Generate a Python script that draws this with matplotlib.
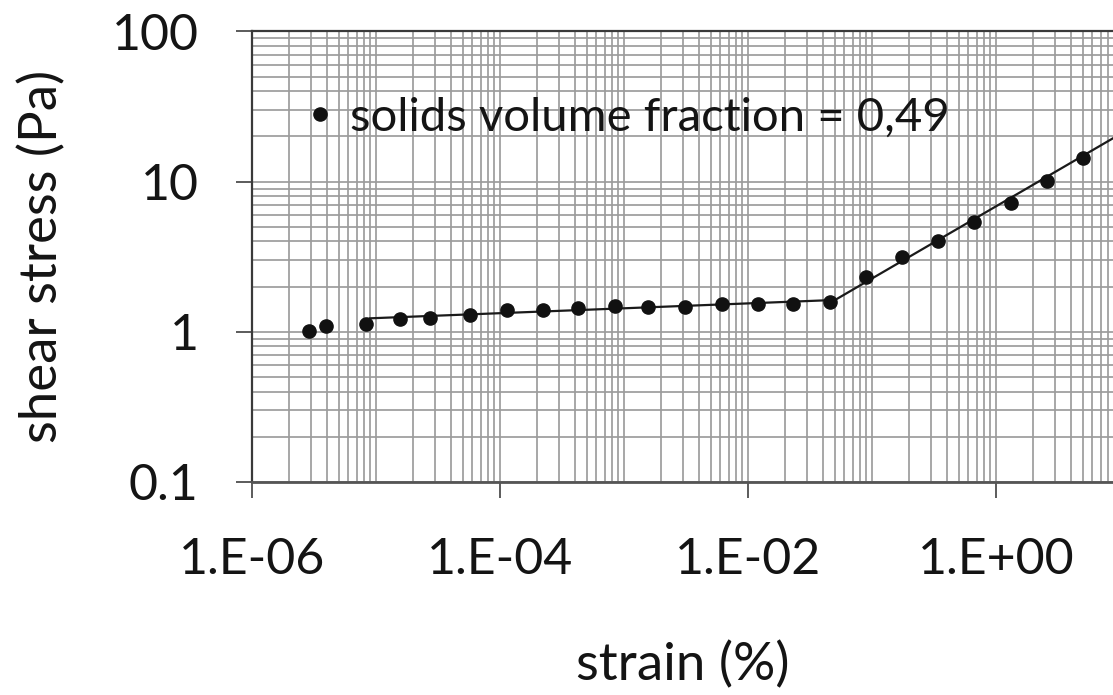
"""Shear stress vs. strain amplitude sweep on log-log axes."""

import matplotlib

matplotlib.use("Agg")
import matplotlib.pyplot as plt
from matplotlib.ticker import FixedFormatter, FixedLocator, LogLocator, NullFormatter

plt.rcParams["font.family"] = ["Lato", "DejaVu Sans"]

# measured points
strain = [
    2.90e-6, 3.95e-6, 8.3e-6, 1.56e-5, 2.72e-5, 5.73e-5, 1.13e-4, 2.24e-4,
    4.28e-4, 8.45e-4, 1.57e-3, 3.10e-3, 6.14e-3, 1.20e-2, 2.32e-2, 4.58e-2,
    8.95e-2, 0.174, 0.343, 0.668, 1.32, 2.56, 5.06,
]
stress = [
    1.02, 1.10, 1.13, 1.21, 1.24, 1.30, 1.39, 1.39,
    1.43, 1.49, 1.47, 1.47, 1.53, 1.53, 1.53, 1.59,
    2.33, 3.14, 4.05, 5.40, 7.25, 10.1, 14.4,
]

# two-segment fit (linear regime, then yielding)
fit_strain = [8.95e-6, 5.04e-2, 10.0]
fit_stress = [1.23, 1.63, 20.7]

x_ticks = [1e-6, 1e-4, 1e-2, 1e0]
x_tick_labels = ["1.E-06", "1.E-04", "1.E-02", "1.E+00"]
y_ticks = [0.1, 1, 10, 100]
y_tick_labels = ["0.1", "1", "10", "100"]

TEXT = "#141414"

fig = plt.figure(figsize=(11.13, 6.95), dpi=100)
ax = fig.add_axes([0.2264, 0.3065, 0.7736, 0.6482])

ax.set_xscale("log")
ax.set_yscale("log")
ax.set_xlim(1e-6, 8.78)
ax.set_ylim(0.1, 100)

ax.plot(fit_strain, fit_stress, color="#1a1a1a", linewidth=1.6, zorder=3)
ax.plot(strain, stress, "o", color="#111111", markersize=9.5,
        label="solids volume fraction = 0,49", zorder=4)

# ticks every two decades on x, grid on every decade + 2..9
ax.xaxis.set_major_locator(FixedLocator(x_ticks))
ax.xaxis.set_major_formatter(FixedFormatter(x_tick_labels))
ax.xaxis.set_minor_locator(LogLocator(base=10, subs=range(1, 10), numticks=60))
ax.xaxis.set_minor_formatter(NullFormatter())
ax.yaxis.set_major_locator(FixedLocator(y_ticks))
ax.yaxis.set_major_formatter(FixedFormatter(y_tick_labels))
ax.yaxis.set_minor_locator(LogLocator(base=10, subs=range(1, 10), numticks=60))
ax.yaxis.set_minor_formatter(NullFormatter())

ax.grid(which="both", color="#9c9c9c", linewidth=1.25, zorder=0)
ax.set_axisbelow(True)

ax.tick_params(which="minor", length=0)
ax.tick_params(which="major", direction="out", length=11.5, width=1.2,
               color="#404040", labelsize=36, labelcolor=TEXT)
ax.tick_params(axis="x", which="major", pad=28)
ax.tick_params(axis="y", which="major", pad=27)

for side in ("left", "bottom", "top"):
    ax.spines[side].set_color("#3a3a3a")
    ax.spines[side].set_linewidth(1.6)
ax.spines["bottom"].set_color("#555555")
ax.spines["bottom"].set_linewidth(2.0)
ax.spines["right"].set_visible(False)

ax.set_xlabel("strain (%)", fontsize=38, color=TEXT, va="center")
ax.xaxis.set_label_coords(0.5, -0.406)
ax.set_ylabel("shear stress (Pa)", fontsize=38, color=TEXT, va="center")
ax.yaxis.set_label_coords(-0.244, 0.5)

ax.legend(loc="center left", bbox_to_anchor=(0.0624, 0.808), frameon=False,
          handlelength=0.6, handletextpad=0.33, borderpad=0, borderaxespad=0,
          fontsize=34, labelcolor=TEXT)

fig.savefig("out.png", dpi=100)
plt.close(fig)
